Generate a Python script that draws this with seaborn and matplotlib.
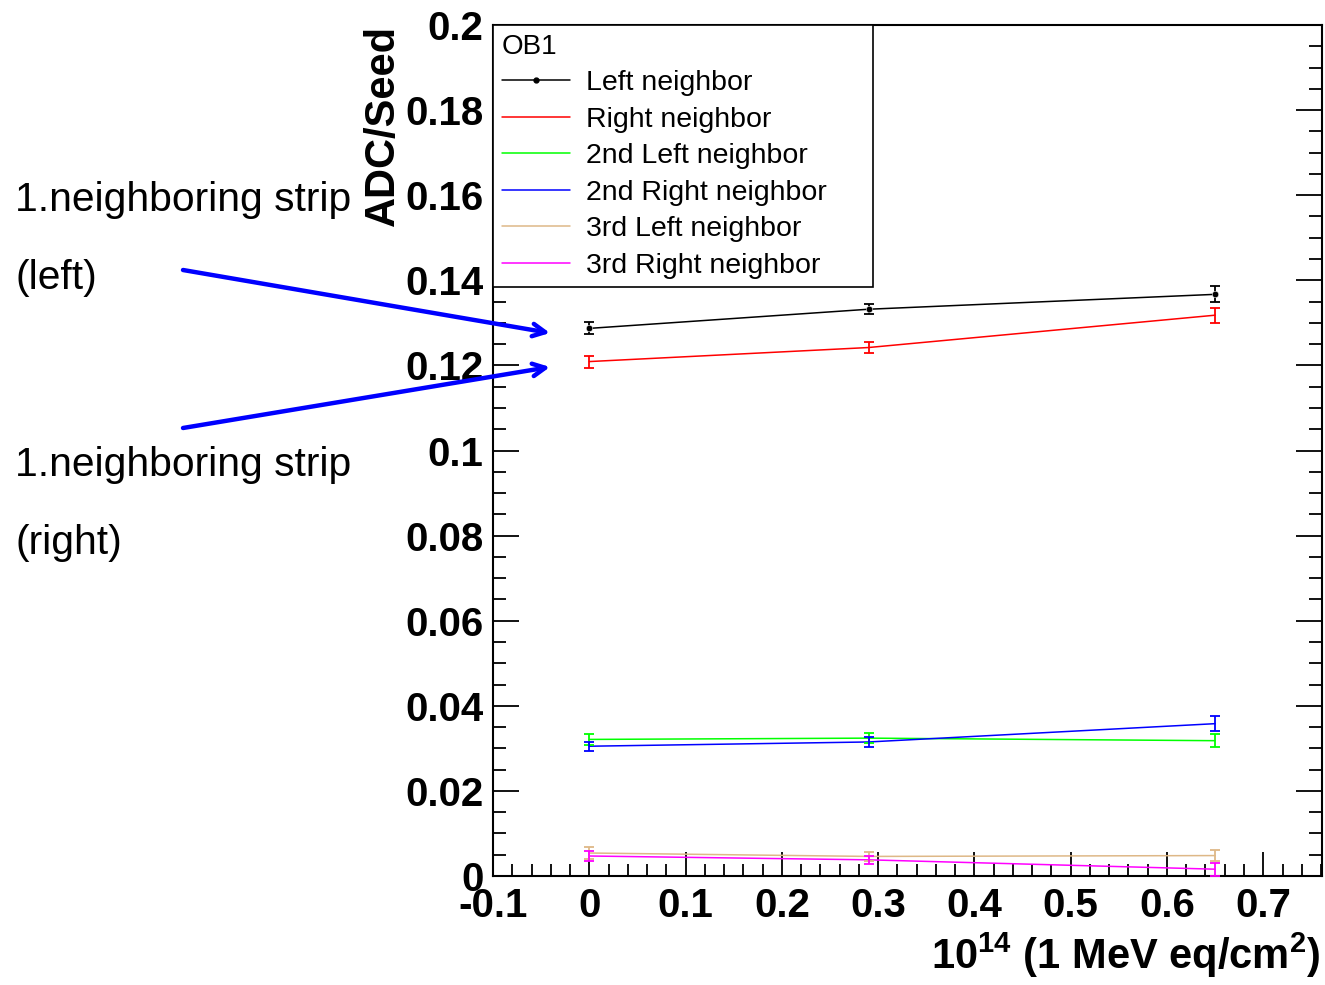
import matplotlib
matplotlib.use("Agg")
import pandas as pd
import seaborn as sns
import matplotlib.pyplot as plt
from matplotlib.lines import Line2D
from matplotlib.ticker import MultipleLocator, FuncFormatter

# fluence in 1e14 (1 MeV neq/cm^2)
fluence = [0.0, 0.29, 0.65]

series_names = ["Left neighbor", "Right neighbor", "2nd Left neighbor",
                "2nd Right neighbor", "3rd Left neighbor", "3rd Right neighbor"]
left = [0.1287, 0.1332, 0.1367]
left_err = [0.0014, 0.0012, 0.0019]
right = [0.1209, 0.1242, 0.1318]
right_err = [0.0014, 0.0012, 0.0018]
left2 = [0.0321, 0.0324, 0.0318]
left2_err = [0.0012, 0.0012, 0.0016]
right2 = [0.0305, 0.0315, 0.0358]
right2_err = [0.0011, 0.0011, 0.0017]
left3 = [0.0054, 0.0046, 0.0048]
left3_err = [0.0013, 0.0010, 0.0013]
right3 = [0.0047, 0.0038, 0.0016]
right3_err = [0.0012, 0.0010, 0.0015]

values = [left, right, left2, right2, left3, right3]
errors = [left_err, right_err, left2_err, right2_err, left3_err, right3_err]
colors = ["black", "#ff0000", "#00ff00", "#0000ff", "#deb887", "#ff00ff"]

sns.set_style("ticks")
plt.rcParams["font.family"] = ["Liberation Sans", "DejaVu Sans"]
plt.rcParams["mathtext.fontset"] = "custom"
plt.rcParams["mathtext.rm"] = "Liberation Sans:bold"
plt.rcParams["mathtext.bf"] = "Liberation Sans:bold"
for key in ["text.color", "axes.labelcolor", "xtick.color", "ytick.color", "axes.edgecolor"]:
    plt.rcParams[key] = "black"

fig = plt.figure(figsize=(13.25, 9.85), dpi=100)
ax = fig.add_axes([493 / 1325, 1 - 876 / 985, (1322 - 493) / 1325, (876 - 25) / 985])

rows = []
for name, vals, errs in zip(series_names, values, errors):
    for x, v, e in zip(fluence, vals, errs):
        rows.append({"fluence": x, "adc": v, "err": e, "series": name})
df = pd.DataFrame(rows)

sns.lineplot(data=df, x="fluence", y="adc", hue="series", hue_order=series_names,
             palette=dict(zip(series_names, colors)), linewidth=1.1, legend=False,
             ax=ax, zorder=3)
for name, c in zip(series_names, colors):
    sub = df[df["series"] == name]
    ax.errorbar(sub["fluence"], sub["adc"], yerr=sub["err"], fmt="none",
                ecolor=c, elinewidth=1.3, capsize=3.6, capthick=1.3, zorder=3)
sub = df[df["series"] == "Left neighbor"]
sns.scatterplot(x=sub["fluence"], y=sub["adc"], color="black", s=22, ax=ax,
                zorder=4, legend=False)

ax.set_xlim(-0.1, 0.761)
ax.set_ylim(0, 0.2)
ax.xaxis.set_major_locator(MultipleLocator(0.1))
ax.xaxis.set_minor_locator(MultipleLocator(0.02))
ax.yaxis.set_major_locator(MultipleLocator(0.02))
ax.yaxis.set_minor_locator(MultipleLocator(0.005))
fmt = FuncFormatter(lambda v, p: f"{round(v, 4):g}")
ax.xaxis.set_major_formatter(fmt)
ax.yaxis.set_major_formatter(fmt)
ax.set_xlabel("")
ax.set_ylabel("")

for s in ax.spines.values():
    s.set_linewidth(1.5)
    s.set_visible(True)
ax.tick_params(axis="y", which="both", direction="in", left=True, right=True,
               labelsize=29, pad=7, width=1.3)
ax.tick_params(axis="y", which="major", length=19)
ax.tick_params(axis="y", which="minor", length=9.5)
ax.tick_params(axis="x", which="both", direction="in", bottom=True, top=False,
               labelsize=29, pad=8, width=1.3)
ax.tick_params(axis="x", which="major", length=17)
ax.tick_params(axis="x", which="minor", length=9)
for lab in ax.get_xticklabels() + ax.get_yticklabels():
    lab.set_fontweight("bold")

handles = []
for name, c in zip(series_names, colors):
    mk = "o" if name == "Left neighbor" else None
    handles.append(Line2D([], [], color=c, lw=1.1, marker=mk, markersize=3.5))
leg = ax.legend(handles, series_names, title="OB1", loc="upper left",
                bbox_to_anchor=(0, 0.696, 0.458, 0.304), mode="expand",
                borderaxespad=0, fontsize=20.5, title_fontsize=20, alignment="left",
                handlelength=2.4, handletextpad=0.55, labelspacing=0.37,
                borderpad=0.3, fancybox=False, framealpha=1, edgecolor="black")
leg.get_frame().set_linewidth(1.2)
leg.set_zorder(5)

fig.text(383 / 1325, 1 - 25 / 985, "ADC/Seed", rotation=90, ha="center", va="top",
         fontsize=30, fontweight="bold")
fig.text(1320 / 1325, 1 - 955 / 985, r"10$^{\mathbf{14}}$ (1 MeV eq/cm$^{\mathbf{2}}$)",
         ha="right", va="center", fontsize=30, fontweight="bold")

fig.text(15 / 1325, 1 - 200 / 985, "1.neighboring strip", ha="left", va="center", fontsize=29.3)
fig.text(15 / 1325, 1 - 278 / 985, "(left)", ha="left", va="center", fontsize=29.3)
fig.text(15 / 1325, 1 - 465 / 985, "1.neighboring strip", ha="left", va="center", fontsize=29.3)
fig.text(15 / 1325, 1 - 543 / 985, "(right)", ha="left", va="center", fontsize=29.3)

arrow = dict(arrowstyle="->,head_length=0.9,head_width=0.45", color="#0000ff", lw=3.2,
             shrinkA=0, shrinkB=0)
ax.annotate("", xy=(550 / 1325, 1 - 333 / 985), xytext=(183 / 1325, 1 - 270 / 985),
            xycoords="figure fraction", textcoords="figure fraction",
            arrowprops=arrow, annotation_clip=False, zorder=6)
ax.annotate("", xy=(550 / 1325, 1 - 367 / 985), xytext=(183 / 1325, 1 - 428 / 985),
            xycoords="figure fraction", textcoords="figure fraction",
            arrowprops=arrow, annotation_clip=False, zorder=6)

fig.savefig("out.png", dpi=100)
